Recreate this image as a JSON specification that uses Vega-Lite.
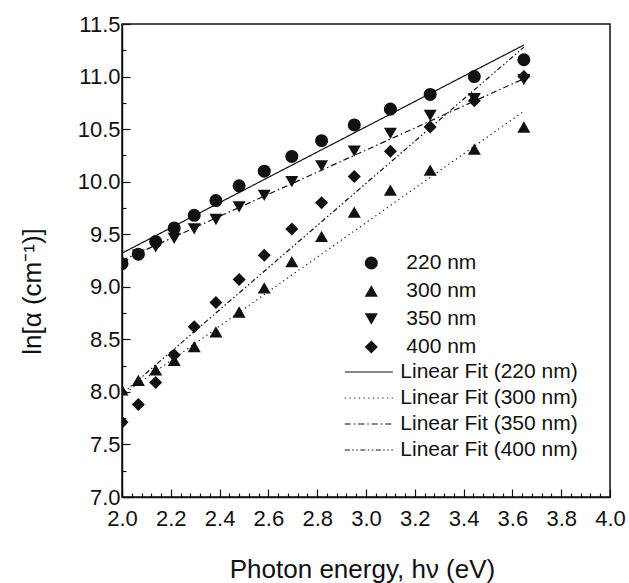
{
  "$schema": "https://vega.github.io/schema/vega-lite/v6.json",
  "width": 488,
  "height": 473,
  "autosize": {"type": "none"},
  "padding": {"left": 122, "top": 24, "right": 19, "bottom": 86},
  "background": "white",
  "config": {
    "font": "Liberation Sans",
    "view": {"stroke": "#111", "strokeWidth": 1.5},
    "axis": {"grid": false, "domainColor": "#111", "domainWidth": 1.5, "tickColor": "#111", "tickWidth": 1.2, "labelColor": "#111", "titleColor": "#111", "labelFont": "Liberation Sans", "titleFont": "Liberation Sans", "titleFontWeight": "normal"},
    "legend": {"labelFont": "Liberation Sans", "labelColor": "#111", "padding": 0, "labelLimit": 0}
  },
  "datasets": {
    "pts": [
      {"series": "220 nm", "x": 2.000, "y": 9.22}, {"series": "220 nm", "x": 2.067, "y": 9.31}, {"series": "220 nm", "x": 2.138, "y": 9.43}, {"series": "220 nm", "x": 2.214, "y": 9.56}, {"series": "220 nm", "x": 2.296, "y": 9.68},
      {"series": "220 nm", "x": 2.385, "y": 9.82}, {"series": "220 nm", "x": 2.480, "y": 9.96}, {"series": "220 nm", "x": 2.583, "y": 10.10}, {"series": "220 nm", "x": 2.696, "y": 10.24}, {"series": "220 nm", "x": 2.818, "y": 10.39},
      {"series": "220 nm", "x": 2.952, "y": 10.54}, {"series": "220 nm", "x": 3.100, "y": 10.69}, {"series": "220 nm", "x": 3.263, "y": 10.83}, {"series": "220 nm", "x": 3.444, "y": 11.00}, {"series": "220 nm", "x": 3.647, "y": 11.16},
      {"series": "300 nm", "x": 2.000, "y": 8.02}, {"series": "300 nm", "x": 2.067, "y": 8.11}, {"series": "300 nm", "x": 2.138, "y": 8.21}, {"series": "300 nm", "x": 2.214, "y": 8.30}, {"series": "300 nm", "x": 2.296, "y": 8.43},
      {"series": "300 nm", "x": 2.385, "y": 8.57}, {"series": "300 nm", "x": 2.480, "y": 8.76}, {"series": "300 nm", "x": 2.583, "y": 8.99}, {"series": "300 nm", "x": 2.696, "y": 9.24}, {"series": "300 nm", "x": 2.818, "y": 9.48},
      {"series": "300 nm", "x": 2.952, "y": 9.71}, {"series": "300 nm", "x": 3.100, "y": 9.92}, {"series": "300 nm", "x": 3.263, "y": 10.11}, {"series": "300 nm", "x": 3.444, "y": 10.31}, {"series": "300 nm", "x": 3.647, "y": 10.52},
      {"series": "350 nm", "x": 2.000, "y": 9.21}, {"series": "350 nm", "x": 2.067, "y": 9.30}, {"series": "350 nm", "x": 2.138, "y": 9.38}, {"series": "350 nm", "x": 2.214, "y": 9.46}, {"series": "350 nm", "x": 2.296, "y": 9.55},
      {"series": "350 nm", "x": 2.385, "y": 9.64}, {"series": "350 nm", "x": 2.480, "y": 9.76}, {"series": "350 nm", "x": 2.583, "y": 9.87}, {"series": "350 nm", "x": 2.696, "y": 10.00}, {"series": "350 nm", "x": 2.818, "y": 10.15},
      {"series": "350 nm", "x": 2.952, "y": 10.29}, {"series": "350 nm", "x": 3.100, "y": 10.46}, {"series": "350 nm", "x": 3.263, "y": 10.63}, {"series": "350 nm", "x": 3.444, "y": 10.79}, {"series": "350 nm", "x": 3.647, "y": 10.97},
      {"series": "400 nm", "x": 2.000, "y": 7.71}, {"series": "400 nm", "x": 2.067, "y": 7.88}, {"series": "400 nm", "x": 2.138, "y": 8.09}, {"series": "400 nm", "x": 2.214, "y": 8.35}, {"series": "400 nm", "x": 2.296, "y": 8.62},
      {"series": "400 nm", "x": 2.385, "y": 8.85}, {"series": "400 nm", "x": 2.480, "y": 9.07}, {"series": "400 nm", "x": 2.583, "y": 9.30}, {"series": "400 nm", "x": 2.696, "y": 9.55}, {"series": "400 nm", "x": 2.818, "y": 9.80},
      {"series": "400 nm", "x": 2.952, "y": 10.05}, {"series": "400 nm", "x": 3.100, "y": 10.29}, {"series": "400 nm", "x": 3.263, "y": 10.52}, {"series": "400 nm", "x": 3.444, "y": 10.77}, {"series": "400 nm", "x": 3.647, "y": 11.00}
    ],
    "fits": [
      {"fit": "Linear Fit (220 nm)", "x": 2.0, "y": 9.32}, {"fit": "Linear Fit (220 nm)", "x": 3.647, "y": 11.30},
      {"fit": "Linear Fit (300 nm)", "x": 2.0, "y": 7.97}, {"fit": "Linear Fit (300 nm)", "x": 3.647, "y": 10.67},
      {"fit": "Linear Fit (350 nm)", "x": 2.0, "y": 9.25}, {"fit": "Linear Fit (350 nm)", "x": 3.647, "y": 10.98},
      {"fit": "Linear Fit (400 nm)", "x": 2.0, "y": 7.98}, {"fit": "Linear Fit (400 nm)", "x": 3.647, "y": 11.28}
    ]
  },
  "encoding": {
    "x": {
      "field": "x", "type": "quantitative",
      "scale": {"domain": [2, 4], "nice": false, "zero": false},
      "axis": {
        "title": "Photon energy, hν (eV)",
        "titleFontSize": 26, "titleX": 240, "titleY": 80, "titleBaseline": "alphabetic",
        "values": [2.0,2.04,2.08,2.12,2.16,2.2,2.24,2.28,2.32,2.36,2.4,2.44,2.48,2.52,2.56,2.6,2.64,2.68,2.72,2.76,2.8,2.84,2.88,2.92,2.96,3.0,3.04,3.08,3.12,3.16,3.2,3.24,3.28,3.32,3.36,3.4,3.44,3.48,3.52,3.56,3.6,3.64,3.68,3.72,3.76,3.8,3.84,3.88,3.92,3.96,4.0],
        "labelExpr": "abs(datum.value*5 - round(datum.value*5)) < 0.001 ? format(datum.value, '.1f') : ''",
        "labelOverlap": false, "labelFlush": false, "labelBound": false,
        "labelFontSize": 22, "labelPadding": 19,
        "tickSize": {"condition": {"test": "abs(datum.value*5 - round(datum.value*5)) < 0.001", "value": -8}, "value": -4}
      }
    },
    "y": {
      "field": "y", "type": "quantitative",
      "scale": {"domain": [7, 11.5], "nice": false, "zero": false},
      "axis": {
        "title": "ln[α (cm⁻¹)]",
        "titleFontSize": 26, "titleX": -82, "titleY": 267, "titleBaseline": "alphabetic",
        "values": [7.0,7.25,7.5,7.75,8.0,8.25,8.5,8.75,9.0,9.25,9.5,9.75,10.0,10.25,10.5,10.75,11.0,11.25,11.5],
        "labelExpr": "abs(datum.value*2 - round(datum.value*2)) < 0.001 ? format(datum.value, '.1f') : ''",
        "labelOverlap": false, "labelFlush": false, "labelBound": false,
        "labelFontSize": 22, "labelPadding": 10,
        "tickSize": {"condition": {"test": "abs(datum.value*2 - round(datum.value*2)) < 0.001", "value": -8}, "value": -4}
      }
    }
  },
  "layer": [
    {
      "data": {"name": "fits"},
      "mark": {"type": "line", "color": "#111", "strokeWidth": 1.2},
      "encoding": {
        "strokeDash": {
          "field": "fit", "type": "nominal",
          "scale": {
            "domain": ["Linear Fit (220 nm)", "Linear Fit (300 nm)", "Linear Fit (350 nm)", "Linear Fit (400 nm)"],
            "range": [[1, 0], [1.2, 3.5], [6, 3, 1.5, 3], [5, 2.5, 1.5, 2.5, 1.5, 2.5]]
          },
          "legend": {
            "title": null, "orient": "none", "legendX": 233.8, "legendY": 335,
            "symbolType": "M-2,0H2", "symbolSize": 576, "symbolStrokeWidth": 1.2, "symbolStrokeColor": "#111",
            "labelFontSize": 21, "labelOffset": 18.5, "rowPadding": 3, "labelLimit": 0
          }
        }
      }
    },
    {
      "data": {"name": "pts"},
      "mark": {"type": "point", "filled": true, "color": "#111", "opacity": 1, "size": 170, "clip": true},
      "encoding": {
        "shape": {
          "field": "series", "type": "nominal",
          "scale": {
            "domain": ["220 nm", "300 nm", "350 nm", "400 nm"],
            "range": ["circle", "triangle-up", "triangle-down", "diamond"]
          },
          "legend": {
            "title": null, "orient": "none", "legendX": 238.8, "legendY": 228.5,
            "symbolSize": 170, "symbolFillColor": "#111", "symbolStrokeColor": "#111", "symbolOpacity": 1,
            "labelFontSize": 21, "labelOffset": 24.5, "rowPadding": 6, "labelLimit": 0
          }
        }
      }
    }
  ]
}
